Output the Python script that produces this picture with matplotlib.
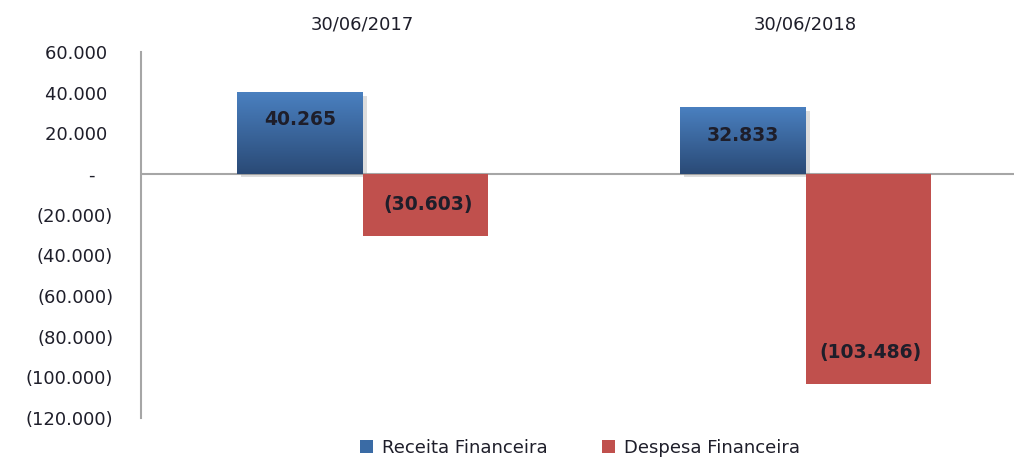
import numpy as np
import matplotlib
matplotlib.use('Agg')
import matplotlib.pyplot as plt
import matplotlib.patheffects as pe
from matplotlib.patches import Patch
from matplotlib.colors import LinearSegmentedColormap

plt.rcParams['font.family'] = ['DejaVu Sans']

dates = ['30/06/2017', '30/06/2018']
receita = [40265, 32833]
despesa = [-30603, -103486]
series_names = ['Receita Financeira', 'Despesa Financeira']
yticks = [60000, 40000, 20000, 0, -20000, -40000, -60000, -80000, -100000, -120000]

text_color = '#1E1E2A'
blue_top, blue_bot = '#4A80C0', '#2A4A76'
red = '#C0504D'
axis_gray = '#A6A6A6'

fig = plt.figure(figsize=(10.14, 4.66), dpi=100)
ax = fig.add_axes([141 / 1014, 48 / 466, (1027 - 141) / 1014, 366 / 466])

x = np.arange(len(dates))
w = 0.283

blue_bars = ax.bar(x - w / 2, receita, w, color=blue_bot, zorder=2)
red_bars = ax.bar(x + w / 2, despesa, w, color=red, zorder=2)

# gradient fill + soft shadow on the blue bars
cmap = LinearSegmentedColormap.from_list('bl', [blue_bot, blue_top])
grad = np.linspace(0, 1, 256).reshape(-1, 1)
for b in blue_bars:
    b.set_path_effects([pe.SimplePatchShadow(offset=(3, -2.5), shadow_rgbFace='#909090', alpha=0.3),
                        pe.Normal()])
    x0, y0 = b.get_x(), b.get_y()
    im = ax.imshow(grad, cmap=cmap, origin='lower', aspect='auto',
                   extent=[x0, x0 + b.get_width(), y0, y0 + b.get_height()], zorder=3)
    im.set_clip_path(b)

ax.set_xlim(-0.5, 1.5)
ax.set_ylim(-120000, 60000)

ax.axhline(0, color=axis_gray, lw=1.5, zorder=1)


def fmt(v):
    if v == 0:
        return '-   '
    s = f'{abs(v):,.0f}'.replace(',', '.')
    return f'({s})' if v < 0 else s + ' '


for b, v in zip(blue_bars, receita):
    ax.annotate(fmt(v).strip(), (b.get_x() + b.get_width() / 2, v), xytext=(0, -20),
                textcoords='offset points', ha='center', va='center',
                fontsize=13.5, fontweight='bold', color=text_color, zorder=5)
for b, v in zip(red_bars, despesa):
    ax.annotate(fmt(v), (b.get_x() + b.get_width() / 2, v), xytext=(2, 23),
                textcoords='offset points', ha='center', va='center',
                fontsize=13.5, fontweight='bold', color=text_color, zorder=5)

ax.set_yticks(yticks)
ax.set_yticklabels([fmt(v) for v in yticks])
ax.tick_params(axis='y', length=0, pad=20, labelsize=13, labelcolor=text_color)

ax.xaxis.tick_top()
ax.set_xticks(x)
ax.set_xticklabels(dates)
ax.tick_params(axis='x', length=0, pad=13, labelsize=13, labelcolor=text_color)

for s in ['top', 'right', 'bottom']:
    ax.spines[s].set_visible(False)
ax.spines['left'].set_color(axis_gray)
ax.spines['left'].set_linewidth(1.5)

handles = [Patch(facecolor='#3A6BA5'), Patch(facecolor=red)]
fig.legend(handles, series_names, loc='lower center', bbox_to_anchor=(580 / 1014, -0.015),
           ncol=2, frameon=False, handlelength=0.7, handleheight=0.7, handletextpad=0.5,
           columnspacing=3.0, fontsize=13, labelcolor=text_color)

fig.savefig('out.png', dpi=100)
